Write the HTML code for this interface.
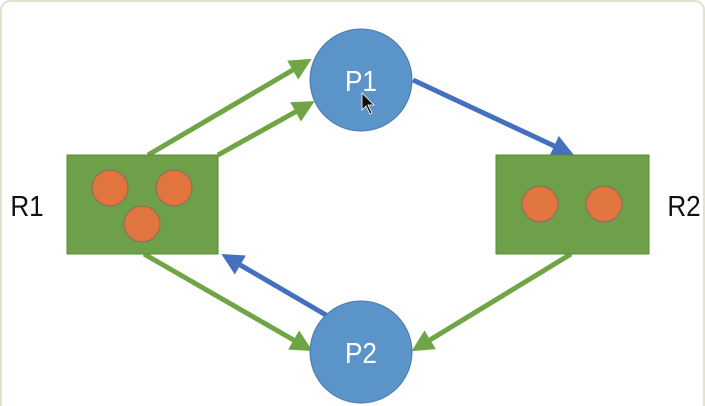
<!DOCTYPE html>
<html><head><style>
html,body{margin:0;padding:0;background:#fff;width:705px;height:406px;overflow:hidden;}
body{position:relative;}
.frame{position:absolute;left:0;top:0;width:701px;height:404px;border:2px solid #e2e2cc;border-bottom:none;border-radius:10px 10px 0 0;}
</style></head><body>
<div class="frame"></div>
<svg width="705" height="406" style="position:absolute;left:0;top:0" font-family="Liberation Sans, sans-serif">
<defs>
<marker id="g" markerWidth="4.4" markerHeight="4.4" refX="2.4" refY="2.2" orient="auto" markerUnits="strokeWidth"><path d="M0,0 L4.4,2.2 L0,4.4 Z" fill="#6fa544"/></marker>
<marker id="b" markerWidth="4.4" markerHeight="4.4" refX="2.4" refY="2.2" orient="auto" markerUnits="strokeWidth"><path d="M0,0 L4.4,2.2 L0,4.4 Z" fill="#4470c0"/></marker>
</defs>
<g stroke-width="5" fill="none">
<line x1="148" y1="155" x2="303" y2="64" stroke="#6fa544" marker-end="url(#g)"/>
<line x1="218" y1="155" x2="306" y2="106" stroke="#6fa544" marker-end="url(#g)"/>
<line x1="144" y1="254" x2="304" y2="346" stroke="#6fa544" marker-end="url(#g)"/>
<line x1="571" y1="254" x2="420" y2="346" stroke="#6fa544" marker-end="url(#g)"/>
<line x1="413" y1="80" x2="565" y2="151" stroke="#4470c0" marker-end="url(#b)"/>
<line x1="326" y1="315" x2="230" y2="259" stroke="#4470c0" marker-end="url(#b)"/>
</g>
<rect x="67" y="155" width="151" height="99" fill="#6ea04a" stroke="#5a8a3a"/>
<rect x="496" y="155" width="153" height="99" fill="#6ea04a" stroke="#5a8a3a"/>
<g fill="#e07540" stroke="#8a6a5a" stroke-width="1">
<ellipse cx="110" cy="188" rx="18" ry="18"/>
<ellipse cx="174" cy="188" rx="18" ry="18"/>
<ellipse cx="142" cy="224" rx="18" ry="18"/>
<ellipse cx="540" cy="204" rx="18" ry="18"/>
<ellipse cx="604" cy="204" rx="18" ry="18"/>
</g>
<circle cx="361" cy="80" r="51" fill="#5b94c8" stroke="#4a7aa8"/>
<circle cx="361" cy="352" r="51" fill="#5b94c8" stroke="#4a7aa8"/>
<text x="361" y="91" font-size="29" fill="#fff" text-anchor="middle" transform="translate(361 0) scale(0.9 1) translate(-361 0)">P1</text>
<text x="361" y="363" font-size="29" fill="#fff" text-anchor="middle" transform="translate(361 0) scale(0.9 1) translate(-361 0)">P2</text>
<text x="27" y="216" font-size="29" fill="#111" text-anchor="middle" transform="translate(27 0) scale(0.9 1) translate(-27 0)">R1</text>
<text x="684" y="216" font-size="29" fill="#111" text-anchor="middle" transform="translate(684 0) scale(0.9 1) translate(-684 0)">R2</text>
<path d="M362,93 L362,110 L366,106 L370,114 L372,113 L368,105 L374,105 Z" fill="#111" stroke="#fff" stroke-width="0.8"/>
</svg>
</body></html>
